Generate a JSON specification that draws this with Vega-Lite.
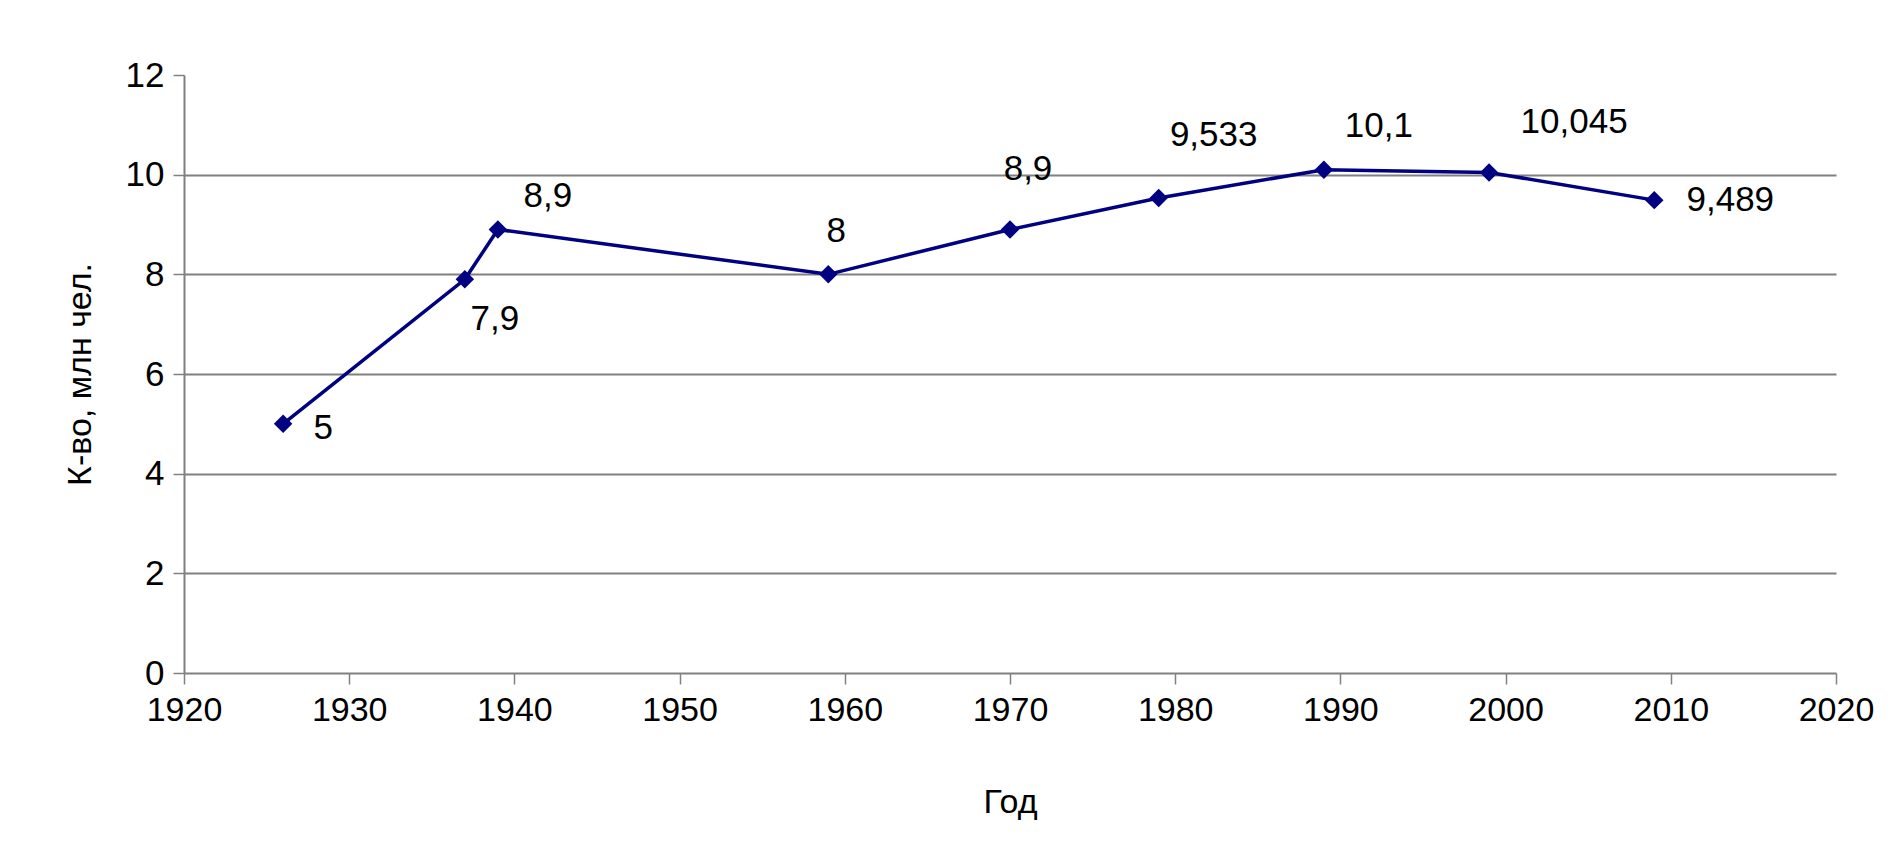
{
  "$schema": "https://vega.github.io/schema/vega-lite/v6.json",
  "autosize": {"type": "none"},
  "width": 1652,
  "height": 598,
  "padding": {"left": 184, "top": 75, "right": 67, "bottom": 187},
  "background": "white",
  "config": {
    "locale": {"number": {"decimal": ",", "thousands": " ", "grouping": [3], "currency": ["", ""]}},
    "font": "Liberation Sans",
    "view": {"stroke": null},
    "text": {"font": "Liberation Sans", "fontSize": 35, "color": "#000000", "align": "center", "baseline": "middle"}
  },
  "data": {"values": [
    {"year": 1926, "value": 5},
    {"year": 1937, "value": 7.9},
    {"year": 1939, "value": 8.9},
    {"year": 1959, "value": 8},
    {"year": 1970, "value": 8.9},
    {"year": 1979, "value": 9.533},
    {"year": 1989, "value": 10.1},
    {"year": 1999, "value": 10.045},
    {"year": 2009, "value": 9.489}
  ]},
  "encoding": {
    "x": {
      "field": "year", "type": "quantitative",
      "scale": {"domain": [1920, 2020], "nice": false, "zero": false},
      "axis": {
        "title": "Год", "values": [1920,1930,1940,1950,1960,1970,1980,1990,2000,2010,2020],
        "format": "d", "grid": false,
        "domainColor": "#808080", "domainWidth": 2,
        "tickColor": "#808080", "tickWidth": 1.5, "tickSize": 11,
        "labelFont": "Liberation Sans", "labelFontSize": 34, "labelColor": "#000000", "labelPadding": 9,
        "labelFlush": false,
        "titleFont": "Liberation Sans", "titleFontSize": 34, "titleFontWeight": "normal", "titleColor": "#000000", "titlePadding": 58
      }
    },
    "y": {
      "field": "value", "type": "quantitative",
      "scale": {"domain": [0, 12], "nice": false},
      "axis": {
        "title": "К-во, млн чел.", "values": [0,2,4,6,8,10,12],
        "grid": true, "gridColor": "#808080", "gridWidth": 2,
        "gridOpacity": {"condition": {"test": "datum.value == 12 || datum.value == 0", "value": 0}, "value": 1},
        "domainColor": "#808080", "domainWidth": 2,
        "tickColor": "#808080", "tickWidth": 1.5, "tickSize": 11,
        "labelFont": "Liberation Sans", "labelFontSize": 35, "labelColor": "#000000", "labelPadding": 9,
        "labelFlush": false,
        "titleFont": "Liberation Sans", "titleFontSize": 34, "titleFontWeight": "normal", "titleColor": "#000000", "titlePadding": 28
      }
    }
  },
  "layer": [
    {"mark": {"type": "line", "color": "#000080", "strokeWidth": 3.5}},
    {"mark": {"type": "point", "shape": "diamond", "filled": true, "color": "#000080", "size": 340, "opacity": 1}},
    {"transform": [{"filter": "datum.year == 1926"}], "mark": {"type": "text", "dx": 40, "dy": 4}, "encoding": {"text": {"field": "value", "type": "quantitative", "format": "~g"}}},
    {"transform": [{"filter": "datum.year == 1937"}], "mark": {"type": "text", "dx": 30, "dy": 40}, "encoding": {"text": {"field": "value", "type": "quantitative", "format": "~g"}}},
    {"transform": [{"filter": "datum.year == 1939"}], "mark": {"type": "text", "dx": 50, "dy": -33}, "encoding": {"text": {"field": "value", "type": "quantitative", "format": "~g"}}},
    {"transform": [{"filter": "datum.year == 1959"}], "mark": {"type": "text", "dx": 8, "dy": -43}, "encoding": {"text": {"field": "value", "type": "quantitative", "format": "~g"}}},
    {"transform": [{"filter": "datum.year == 1970"}], "mark": {"type": "text", "dx": 18, "dy": -60}, "encoding": {"text": {"field": "value", "type": "quantitative", "format": "~g"}}},
    {"transform": [{"filter": "datum.year == 1979"}], "mark": {"type": "text", "dx": 55, "dy": -63}, "encoding": {"text": {"field": "value", "type": "quantitative", "format": "~g"}}},
    {"transform": [{"filter": "datum.year == 1989"}], "mark": {"type": "text", "dx": 55, "dy": -44}, "encoding": {"text": {"field": "value", "type": "quantitative", "format": "~g"}}},
    {"transform": [{"filter": "datum.year == 1999"}], "mark": {"type": "text", "dx": 85, "dy": -50}, "encoding": {"text": {"field": "value", "type": "quantitative", "format": "~g"}}},
    {"transform": [{"filter": "datum.year == 2009"}], "mark": {"type": "text", "dx": 76, "dy": 0}, "encoding": {"text": {"field": "value", "type": "quantitative", "format": "~g"}}}
  ]
}
